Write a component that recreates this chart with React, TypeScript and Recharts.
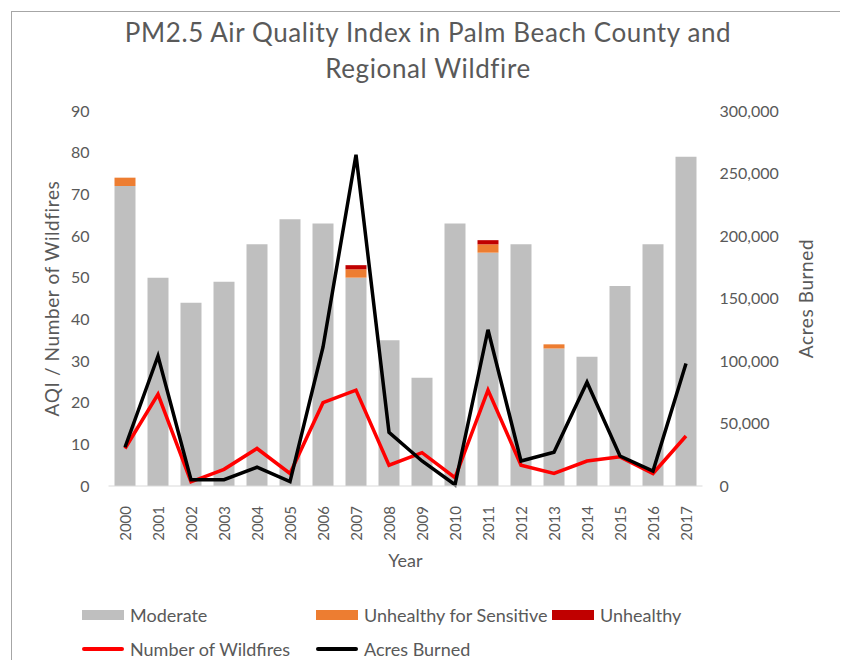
import {
  Bar,
  ComposedChart,
  Label,
  Legend,
  Line,
  XAxis,
  YAxis,
} from "recharts";

const FONT = "Lato, 'Open Sans', sans-serif";
const TEXT = "#595959";

const years = [
  "2000", "2001", "2002", "2003", "2004", "2005", "2006", "2007", "2008",
  "2009", "2010", "2011", "2012", "2013", "2014", "2015", "2016", "2017",
];

// days per AQI category
const moderate = [72, 50, 44, 49, 58, 64, 63, 50, 35, 26, 63, 56, 58, 33, 31, 48, 58, 79];
const unhealthySensitive = [2, 0, 0, 0, 0, 0, 0, 2, 0, 0, 0, 2, 0, 1, 0, 0, 0, 0];
const unhealthy = [0, 0, 0, 0, 0, 0, 0, 1, 0, 0, 0, 1, 0, 0, 0, 0, 0, 0];

const wildfires = [9, 22, 1, 4, 9, 3, 20, 23, 5, 8, 2, 23, 5, 3, 6, 7, 3, 12];
const acresBurned = [
  31000, 104000, 5000, 5000, 15000, 3500, 111000, 265000, 43000, 20000,
  1000, 125000, 20000, 27000, 83000, 24000, 12000, 98000,
];

const leftTicks = [0, 10, 20, 30, 40, 50, 60, 70, 80, 90];
const rightTicks = [0, 50000, 100000, 150000, 200000, 250000, 300000];

const data = years.map((year, i) => ({
  year,
  moderate: moderate[i],
  usg: unhealthySensitive[i],
  unhealthy: unhealthy[i],
  wildfires: wildfires[i],
  acres: acresBurned[i],
}));

const legendItems = [
  { label: "Moderate", color: "#bfbfbf", kind: "box" },
  { label: "Unhealthy for Sensitive", color: "#ed7d31", kind: "box" },
  { label: "Unhealthy", color: "#c00000", kind: "box" },
  { label: "Number of Wildfires", color: "#ff0000", kind: "line" },
  { label: "Acres Burned", color: "#000000", kind: "line" },
];

function YearTick(props: any) {
  const { x, y, payload } = props;
  return (
    <text
      transform={`translate(${x},${y + 12}) rotate(-90)`}
      textAnchor="end"
      dominantBaseline="central"
      fill={TEXT}
      fontSize={15}
      fontFamily={FONT}
    >
      {payload.value}
    </text>
  );
}

function ChartLegend() {
  return (
    <div
      style={{
        display: "grid",
        gridTemplateColumns: "234px 236px 236px",
        gridAutoRows: "34px",
        paddingLeft: 74,
        fontFamily: FONT,
        fontSize: 18,
        color: TEXT,
      }}
    >
      {legendItems.map((item) => (
        <div key={item.label} style={{ display: "flex", alignItems: "center" }}>
          <span
            style={{
              display: "inline-block",
              width: 42,
              height: item.kind === "box" ? 10 : 4,
              borderRadius: item.kind === "line" ? 2 : 0,
              background: item.color,
              marginRight: 6,
              flexShrink: 0,
            }}
          />
          <span style={{ whiteSpace: "nowrap" }}>{item.label}</span>
        </div>
      ))}
    </div>
  );
}

export default function App() {
  return (
    <div style={{ position: "relative", width: 840, height: 652 }}>
      <div
        style={{
          position: "absolute",
          left: 3,
          top: 3,
          width: 830,
          height: 649,
          border: "1px solid #a6a6a6",
          borderBottom: "none",
        }}
      />
      <div
        style={{
          position: "absolute",
          top: 6,
          left: 0,
          width: 840,
          textAlign: "center",
          fontFamily: FONT,
          fontSize: 26,
          letterSpacing: 0.6,
          lineHeight: "36px",
          color: TEXT,
        }}
      >
        PM2.5 Air Quality Index in Palm Beach County and
        <br />
        Regional Wildfire
      </div>
      <ComposedChart
        width={840}
        height={652}
        data={data}
        barSize={21}
        margin={{ top: 103, right: 0, bottom: 0, left: 0 }}
        style={{ position: "absolute", top: 0, left: 0 }}
      >
        <XAxis
          dataKey="year"
          height={112}
          interval={0}
          tick={<YearTick />}
          tickLine={false}
          axisLine={{ stroke: "#d9d9d9" }}
        >
          <Label
            value="Year"
            position="insideTop"
            offset={68}
            fill={TEXT}
            fontSize={18}
            fontFamily={FONT}
          />
        </XAxis>
        <YAxis
          yAxisId="left"
          width={100.5}
          domain={[0, 90]}
          ticks={leftTicks}
          interval={0}
          axisLine={false}
          tickLine={false}
          tickMargin={13}
          tick={{ fill: TEXT, fontSize: 16, fontFamily: FONT }}
        >
          <Label
            value="AQI / Number of Wildfires"
            angle={-90}
            position="insideLeft"
            offset={44}
            fill={TEXT}
            fontSize={19}
            fontFamily={FONT}
            style={{ textAnchor: "middle", letterSpacing: 0.6 }}
          />
        </YAxis>
        <YAxis
          yAxisId="right"
          orientation="right"
          width={145.5}
          domain={[0, 300000]}
          ticks={rightTicks}
          interval={0}
          axisLine={false}
          tickLine={false}
          tickMargin={11}
          tickFormatter={(v: number) => v.toLocaleString("en-US")}
          tick={{ fill: TEXT, fontSize: 16, fontFamily: FONT, textAnchor: "start" }}
        >
          <Label
            value="Acres Burned"
            angle={-90}
            position="insideRight"
            offset={42}
            fill={TEXT}
            fontSize={19}
            fontFamily={FONT}
            style={{ textAnchor: "middle", letterSpacing: 0.6 }}
          />
        </YAxis>
        <Legend
          verticalAlign="bottom"
          content={<ChartLegend />}
          wrapperStyle={{ left: 0, bottom: 0, width: 840, height: 62 }}
        />
        <Bar yAxisId="left" dataKey="moderate" name="Moderate" stackId="aqi" fill="#bfbfbf" isAnimationActive={false} />
        <Bar yAxisId="left" dataKey="usg" name="Unhealthy for Sensitive" stackId="aqi" fill="#ed7d31" isAnimationActive={false} />
        <Bar yAxisId="left" dataKey="unhealthy" name="Unhealthy" stackId="aqi" fill="#c00000" isAnimationActive={false} />
        <Line
          yAxisId="left"
          type="linear"
          dataKey="wildfires"
          name="Number of Wildfires"
          stroke="#ff0000"
          strokeWidth={3.5}
          dot={false}
          isAnimationActive={false}
        />
        <Line
          yAxisId="right"
          type="linear"
          dataKey="acres"
          name="Acres Burned"
          stroke="#000000"
          strokeWidth={3.5}
          dot={false}
          isAnimationActive={false}
        />
      </ComposedChart>
    </div>
  );
}
